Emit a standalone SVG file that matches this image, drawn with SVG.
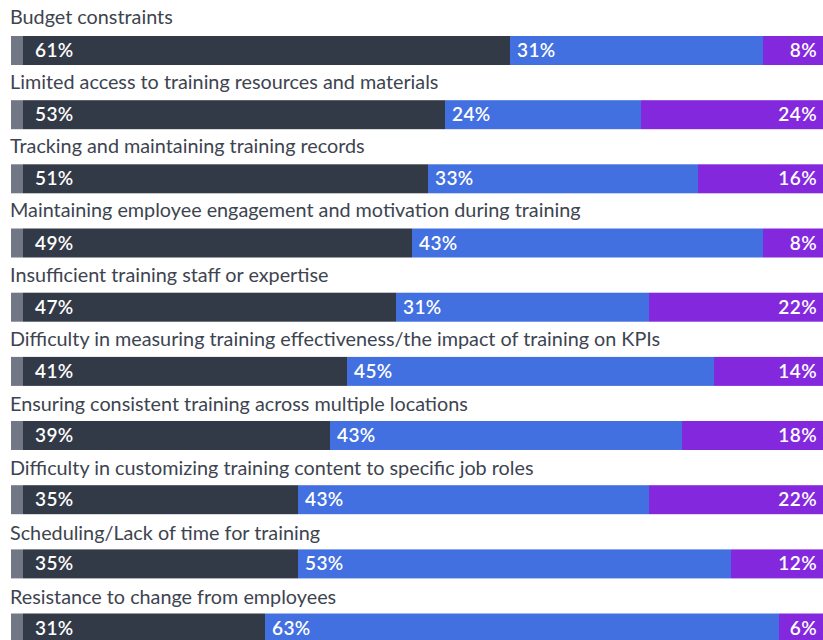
<svg xmlns="http://www.w3.org/2000/svg" width="823" height="640" viewBox="0 0 823 640">
<style>
.lbl{font-family:Lato,"Noto Sans",sans-serif;font-size:19.8px;fill:#3d4450}
.pct{font-family:Lato,"Noto Sans",sans-serif;font-size:19px;font-weight:600;fill:#ffffff;letter-spacing:0.4px}
.r{text-anchor:end}
.stub{fill:#717784}
.dk{fill:#333a47}
.bl{fill:#4270e0}
.pu{fill:#8428de}
</style>
<rect width="823" height="640" fill="#ffffff"/>
<g id="row1">
<text class="lbl" x="10" y="24">Budget constraints</text>
<rect class="stub" x="11" y="36" width="12" height="29"/>
<rect class="dk" x="23" y="36" width="487" height="29"/>
<rect class="bl" x="510" y="36" width="253" height="29"/>
<rect class="pu" x="763" y="36" width="60" height="29"/>
<text class="pct" x="35" y="57">61%</text>
<text class="pct" x="517" y="57">31%</text>
<text class="pct r" x="817" y="57">8%</text>
</g>
<g id="row2">
<text class="lbl" x="10" y="88.5">Limited access to training resources and materials</text>
<rect class="stub" x="11" y="100.2" width="12" height="29"/>
<rect class="dk" x="23" y="100.2" width="422" height="29"/>
<rect class="bl" x="445" y="100.2" width="196" height="29"/>
<rect class="pu" x="641" y="100.2" width="182" height="29"/>
<text class="pct" x="35" y="121.2">53%</text>
<text class="pct" x="452" y="121.2">24%</text>
<text class="pct r" x="817" y="121.2">24%</text>
</g>
<g id="row3">
<text class="lbl" x="10" y="152.9">Tracking and maintaining training records</text>
<rect class="stub" x="11" y="164.3" width="12" height="29"/>
<rect class="dk" x="23" y="164.3" width="405" height="29"/>
<rect class="bl" x="428" y="164.3" width="270" height="29"/>
<rect class="pu" x="698" y="164.3" width="125" height="29"/>
<text class="pct" x="35" y="185.3">51%</text>
<text class="pct" x="435" y="185.3">33%</text>
<text class="pct r" x="817" y="185.3">16%</text>
</g>
<g id="row4">
<text class="lbl" x="10" y="217.4">Maintaining employee engagement and motivation during training</text>
<rect class="stub" x="11" y="228.5" width="12" height="29"/>
<rect class="dk" x="23" y="228.5" width="389" height="29"/>
<rect class="bl" x="412" y="228.5" width="351" height="29"/>
<rect class="pu" x="763" y="228.5" width="60" height="29"/>
<text class="pct" x="35" y="249.5">49%</text>
<text class="pct" x="419" y="249.5">43%</text>
<text class="pct r" x="817" y="249.5">8%</text>
</g>
<g id="row5">
<text class="lbl" x="10" y="281.9">Insufficient training staff or expertise</text>
<rect class="stub" x="11" y="292.7" width="12" height="29"/>
<rect class="dk" x="23" y="292.7" width="373" height="29"/>
<rect class="bl" x="396" y="292.7" width="253" height="29"/>
<rect class="pu" x="649" y="292.7" width="174" height="29"/>
<text class="pct" x="35" y="313.7">47%</text>
<text class="pct" x="403" y="313.7">31%</text>
<text class="pct r" x="817" y="313.7">22%</text>
</g>
<g id="row6">
<text class="lbl" x="10" y="346.4">Difficulty in measuring training effectiveness/the impact of training on KPIs</text>
<rect class="stub" x="11" y="356.9" width="12" height="29"/>
<rect class="dk" x="23" y="356.9" width="324" height="29"/>
<rect class="bl" x="347" y="356.9" width="367" height="29"/>
<rect class="pu" x="714" y="356.9" width="109" height="29"/>
<text class="pct" x="35" y="377.9">41%</text>
<text class="pct" x="354" y="377.9">45%</text>
<text class="pct r" x="817" y="377.9">14%</text>
</g>
<g id="row7">
<text class="lbl" x="10" y="410.8">Ensuring consistent training across multiple locations</text>
<rect class="stub" x="11" y="421" width="12" height="29"/>
<rect class="dk" x="23" y="421" width="307" height="29"/>
<rect class="bl" x="330" y="421" width="352" height="29"/>
<rect class="pu" x="682" y="421" width="141" height="29"/>
<text class="pct" x="35" y="442">39%</text>
<text class="pct" x="337" y="442">43%</text>
<text class="pct r" x="817" y="442">18%</text>
</g>
<g id="row8">
<text class="lbl" x="10" y="475.3">Difficulty in customizing training content to specific job roles</text>
<rect class="stub" x="11" y="485.2" width="12" height="29"/>
<rect class="dk" x="23" y="485.2" width="275" height="29"/>
<rect class="bl" x="298" y="485.2" width="351" height="29"/>
<rect class="pu" x="649" y="485.2" width="174" height="29"/>
<text class="pct" x="35" y="506.2">35%</text>
<text class="pct" x="305" y="506.2">43%</text>
<text class="pct r" x="817" y="506.2">22%</text>
</g>
<g id="row9">
<text class="lbl" x="10" y="539.8">Scheduling/Lack of time for training</text>
<rect class="stub" x="11" y="549.4" width="12" height="29"/>
<rect class="dk" x="23" y="549.4" width="275" height="29"/>
<rect class="bl" x="298" y="549.4" width="433" height="29"/>
<rect class="pu" x="731" y="549.4" width="92" height="29"/>
<text class="pct" x="35" y="570.4">35%</text>
<text class="pct" x="305" y="570.4">53%</text>
<text class="pct r" x="817" y="570.4">12%</text>
</g>
<g id="row10">
<text class="lbl" x="10" y="604.2">Resistance to change from employees</text>
<rect class="stub" x="11" y="613.5" width="12" height="29"/>
<rect class="dk" x="23" y="613.5" width="242" height="29"/>
<rect class="bl" x="265" y="613.5" width="514" height="29"/>
<rect class="pu" x="779" y="613.5" width="44" height="29"/>
<text class="pct" x="35" y="634.5">31%</text>
<text class="pct" x="272" y="634.5">63%</text>
<text class="pct r" x="817" y="634.5">6%</text>
</g>
<g id="connectors"/>
</svg>
